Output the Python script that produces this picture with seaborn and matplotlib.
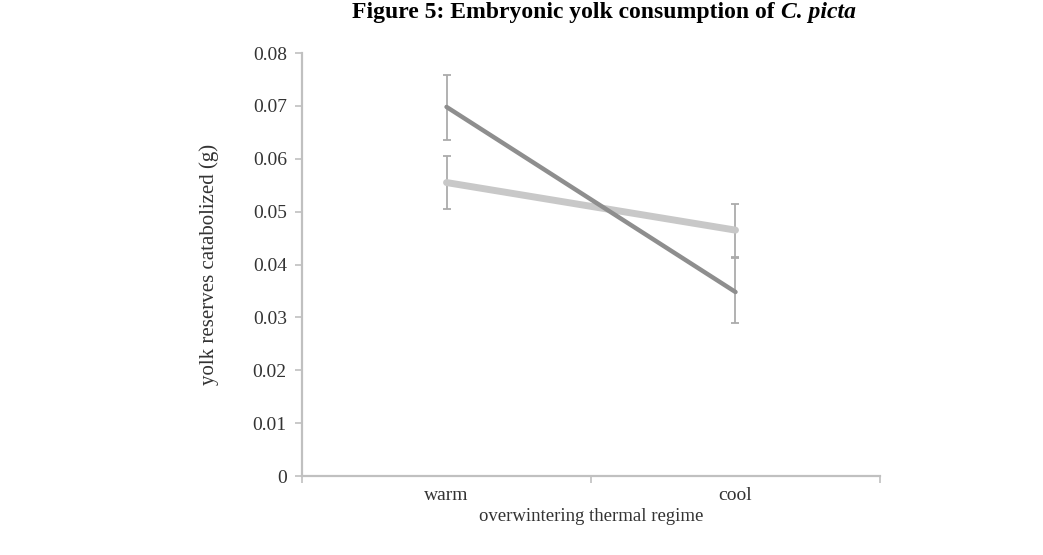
import numpy as np
import pandas as pd
import matplotlib
matplotlib.use("Agg")
import matplotlib.pyplot as plt
import seaborn as sns

# values
regimes = ["warm", "cool"]
dark_mean = [0.0698, 0.0348]
dark_lo = [0.0636, 0.0290]
dark_hi = [0.0758, 0.0412]
light_mean = [0.0555, 0.0465]
light_lo = [0.0505, 0.0415]
light_hi = [0.0605, 0.0515]
yticks = [0, 0.01, 0.02, 0.03, 0.04, 0.05, 0.06, 0.07, 0.08]

sns.set_theme(style="white")
plt.rcParams["font.family"] = ["Liberation Serif", "DejaVu Serif"]

df = pd.DataFrame({
    "regime": regimes * 2,
    "yolk": dark_mean + light_mean,
    "group": ["dark"] * 2 + ["light"] * 2,
})

fig = plt.figure(figsize=(10.43, 5.55), dpi=100)
ax = fig.add_axes([0.2896, 0.1423, 0.5541, 0.7622])

err_col = "#ababab"
x = np.arange(len(regimes))
ax.errorbar(x, dark_mean, yerr=[np.subtract(dark_mean, dark_lo), np.subtract(dark_hi, dark_mean)],
            fmt="none", ecolor=err_col, elinewidth=1.3, capsize=3, capthick=1.3, zorder=1)
ax.errorbar(x, light_mean, yerr=[np.subtract(light_mean, light_lo), np.subtract(light_hi, light_mean)],
            fmt="none", ecolor=err_col, elinewidth=1.3, capsize=3, capthick=1.3, zorder=1)

sns.lineplot(data=df[df.group == "light"], x="regime", y="yolk", color="#c8c8c8",
             linewidth=5, ax=ax, legend=False, zorder=2)
sns.lineplot(data=df[df.group == "dark"], x="regime", y="yolk", color="#8e8e8e",
             linewidth=3.2, ax=ax, legend=False, zorder=3)

ax.set_xlim(-0.5, 1.5)
ax.set_ylim(0, 0.08)
ax.set_yticks(yticks)
ax.set_yticklabels(["0"] + ["%.2f" % v for v in yticks[1:]])
ax.set_xticks([0, 1])
ax.set_xticklabels(regimes)
ax.set_xticks([-0.5, 0.5, 1.5], minor=True)
ax.tick_params(axis="x", which="major", length=0, pad=8, labelsize=14, labelcolor="#333333")
ax.tick_params(axis="x", which="minor", length=5, width=1.2, color="#c0c0c0", direction="out", bottom=True)
ax.tick_params(axis="y", length=5, width=1.2, color="#c0c0c0", direction="out", left=True,
               labelsize=14, labelcolor="#333333", pad=6)

sns.despine(ax=ax)
for s in ["left", "bottom"]:
    ax.spines[s].set_color("#c0c0c0")
    ax.spines[s].set_linewidth(1.6)

ax.set_xlabel("overwintering thermal regime", fontsize=13.5, color="#333333", labelpad=3)
ax.set_ylabel("yolk reserves catabolized (g)", fontsize=15, color="#333333", labelpad=24)

# title: bold part plus bold-italic species name, placed side by side
t1 = fig.text(0.0, 0.968, "Figure 5: Embryonic yolk consumption of ",
              ha="left", va="baseline", fontsize=17, fontweight="bold", color="black")
t2 = fig.text(0.0, 0.968, "C. picta", ha="left", va="baseline", fontsize=17,
              fontweight="bold", fontstyle="italic", color="black")
r = fig.canvas.get_renderer()
w1 = t1.get_window_extent(r).width
w2 = t2.get_window_extent(r).width
W = fig.bbox.width
x0 = 604 - (w1 + w2) / 2
t1.set_x(x0 / W)
t2.set_x((x0 + w1) / W)

fig.savefig("out.png", dpi=100, facecolor="white")
